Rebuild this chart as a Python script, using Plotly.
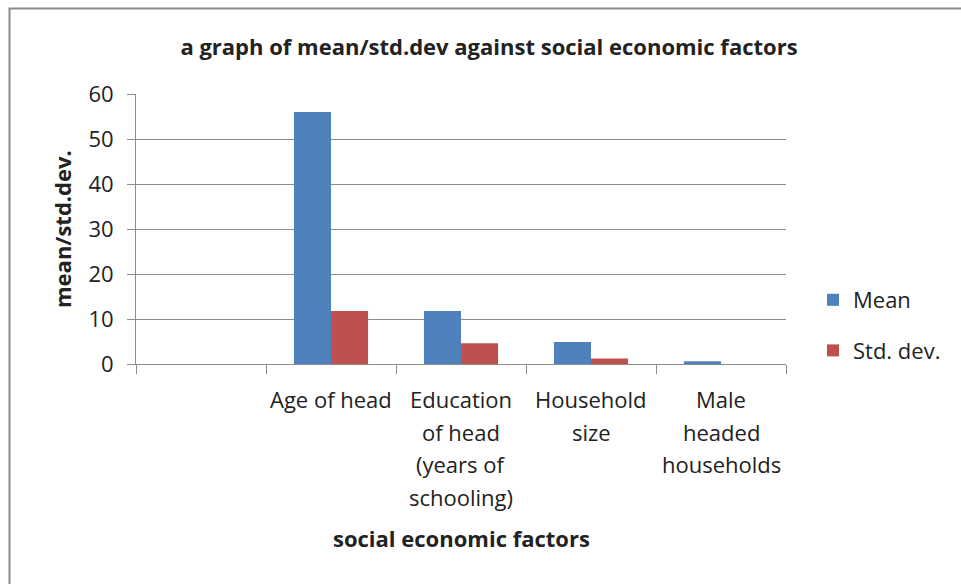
import plotly.graph_objects as go

# ---- data ----
categories = ["", "Age of head", "Education of head (years of schooling)",
              "Household size", "Male headed households"]
category_lines = [[], ["Age of head"], ["Education", "of head", "(years of", "schooling)"],
                  ["Household", "size"], ["Male", "headed", "households"]]
mean_values = [None, 56.0, 11.8, 4.9, 0.6]
std_values = [None, 11.8, 4.6, 1.2, 0.0]
y_ticks = [0, 10, 20, 30, 40, 50, 60]

W, H = 961, 584
L, R, T, B = 136, 786, 94, 364  # plot area in pixels
FONT = "Open Sans"
TXT = "#222222"
GRID = "#8c8c8c"

def px_to_paper_x(px):
    return (px - L) / (R - L)

def px_to_paper_y(py):
    return (B - py) / (B - T)

x_idx = list(range(len(categories)))

fig = go.Figure()
fig.add_trace(go.Bar(x=x_idx, y=mean_values, name="Mean", marker_color="#4F81BD",
                     legendgroup="a", marker_line_width=0))
fig.add_trace(go.Bar(x=x_idx, y=std_values, name="Std. dev.", marker_color="#C0504D",
                     legendgroup="b", marker_line_width=0))

annotations = []
# category labels
for i, lines in enumerate(category_lines):
    for j, line in enumerate(lines):
        annotations.append(dict(
            x=i, xref="x", y=px_to_paper_y(399 + 32.7 * j), yref="paper",
            text=line, showarrow=False, xanchor="center", yanchor="middle",
            font=dict(family=FONT, size=22, color=TXT)))
# axis titles
annotations.append(dict(
    x=px_to_paper_x(62), xref="paper", y=0.5, yref="paper",
    text="<b>mean/std.dev.</b>", textangle=-90, showarrow=False,
    xanchor="center", yanchor="middle",
    font=dict(family=FONT, size=22, color=TXT)))
annotations.append(dict(
    x=0.5, xref="paper", y=px_to_paper_y(538), yref="paper",
    text="<b>social economic factors</b>", showarrow=False,
    xanchor="center", yanchor="middle",
    font=dict(family=FONT, size=22, color=TXT)))

fig.update_layout(
    width=W, height=H,
    margin=dict(l=L, r=W - R, t=T, b=H - B, pad=0),
    paper_bgcolor="white", plot_bgcolor="white",
    barmode="group", bargap=0.43, bargroupgap=0,
    title=dict(text="<b>a graph of mean/std.dev against social economic factors</b>",
               x=489 / W, xref="container", xanchor="center",
               y=1 - 47 / H, yref="container", yanchor="middle",
               font=dict(family=FONT, size=22, color=TXT)),
    xaxis=dict(range=[-0.5, len(categories) - 0.5], showgrid=False, zeroline=False,
               showline=True, linecolor=GRID, linewidth=1,
               tickmode="array", tickvals=[k - 0.5 for k in range(len(categories) + 1)],
               ticktext=[""] * (len(categories) + 1),
               ticks="outside", ticklen=9, tickcolor=GRID, tickwidth=1),
    yaxis=dict(range=[0, 60], tickmode="array", tickvals=y_ticks,
               showgrid=True, gridcolor=GRID, gridwidth=1, zeroline=False,
               showline=True, linecolor=GRID, linewidth=1,
               ticks="outside", ticklen=8, tickcolor=GRID, tickwidth=1,
               ticklabelstandoff=9,
               tickfont=dict(family=FONT, size=22, color=TXT)),
    legend=dict(x=px_to_paper_x(813), xanchor="left", y=px_to_paper_y(279), yanchor="top",
                font=dict(family=FONT, size=22, color=TXT), tracegroupgap=19,
                bgcolor="rgba(0,0,0,0)", borderwidth=0),
    annotations=annotations,
    shapes=[dict(type="rect", xref="paper", yref="paper",
                 x0=px_to_paper_x(9.5), x1=px_to_paper_x(1000),
                 y0=px_to_paper_y(8.5), y1=px_to_paper_y(650),
                 line=dict(color="#8a8a8a", width=2), fillcolor="rgba(0,0,0,0)",
                 layer="above")],
)

fig.write_html("out.html")
